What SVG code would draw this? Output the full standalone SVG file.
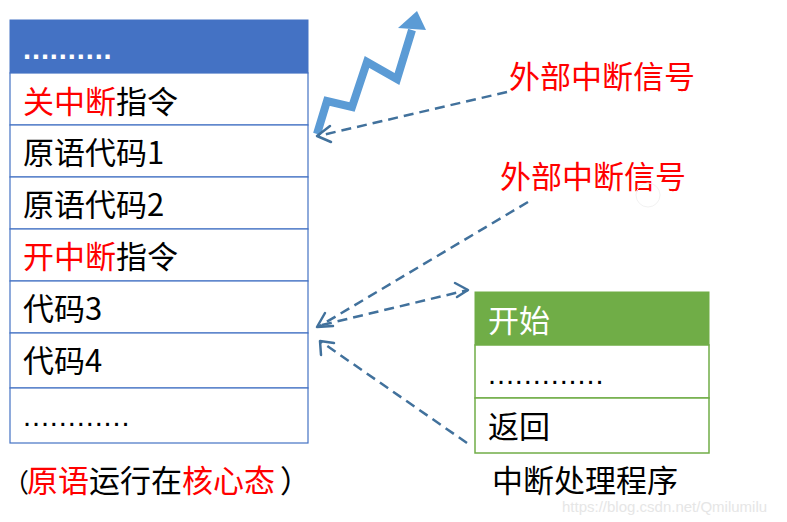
<svg xmlns="http://www.w3.org/2000/svg" width="787" height="522" viewBox="0 0 787 522">
<style>
.t{font-family:"Noto Sans CJK SC","Liberation Sans",sans-serif;font-size:31px;fill:#000}
.d{font-family:"Liberation Sans",sans-serif;font-size:29px;letter-spacing:0.9px;fill:#000}
.r{fill:#FF0000}
.w{fill:#fff}
.sig{font-family:"Noto Sans CJK SC","Liberation Sans",sans-serif;font-size:31px;fill:#FF0000}
.cell{fill:#fff;stroke:#4472C4;stroke-width:1.2}
.gcell{fill:#fff;stroke:#70AD47;stroke-width:1.5}
.dash{fill:none;stroke:#41719C;stroke-width:2.5;stroke-dasharray:10 6}
.head{fill:none;stroke:#41719C;stroke-width:2.5;stroke-linecap:round;stroke-linejoin:round}
</style>
<rect width="787" height="522" fill="#fff"/>
<g id="stack">
<rect x="10" y="20" width="298" height="53" fill="#4472C4" stroke="#4472C4"/>
<rect class="cell" x="10" y="73" width="298" height="52"/>
<rect class="cell" x="10" y="125" width="298" height="52"/>
<rect class="cell" x="10" y="177" width="298" height="52"/>
<rect class="cell" x="10" y="229" width="298" height="52"/>
<rect class="cell" x="10" y="281" width="298" height="52"/>
<rect class="cell" x="10" y="333" width="298" height="55"/>
<rect class="cell" x="10" y="388" width="298" height="55"/>
<text class="d w" x="23" y="59" font-weight="bold">..........</text>
<text class="t" x="23" y="113"><tspan class="r">关中断</tspan>指令</text>
<text class="t" x="23" y="164">原语代码1</text>
<text class="t" x="23" y="216">原语代码2</text>
<text class="t" x="23" y="268"><tspan class="r">开中断</tspan>指令</text>
<text class="t" x="23" y="320">代码3</text>
<text class="t" x="23" y="372">代码4</text>
<text class="d" x="23" y="426">............</text>
</g>
<g id="caption">
<text class="t" y="492"><tspan x="3" font-size="26">（</tspan><tspan x="27" class="r">原语</tspan>运行在<tspan class="r">核心态</tspan><tspan dx="5">）</tspan></text>
</g>
<g id="handler">
<rect x="475" y="292" width="234" height="53" fill="#70AD47" stroke="#70AD47"/>
<rect class="gcell" x="475" y="345" width="234" height="53"/>
<rect class="gcell" x="475" y="398" width="234" height="55"/>
<text class="t w" x="488" y="332">开始</text>
<text class="d" x="488" y="384">.............</text>
<text class="t" x="488" y="438">返回</text>
<text class="t" x="492" y="492">中断处理程序</text>
</g>
<g id="signal1"><text class="sig" x="509" y="88">外部中断信号</text></g>
<g id="signal2"><text class="sig" x="500" y="188">外部中断信号</text></g>
<g id="bolt">
<polyline points="317,134 327,101 352,107 367,62 397,79 412,30" fill="none" stroke="#5B9BD5" stroke-width="8" stroke-linejoin="miter"/>
<polygon points="398,28 417,11 426,30" fill="#5B9BD5"/>
</g>
<g id="connectors">
<path class="dash" d="M507,92 L318,136"/>
<path class="head" d="M330,126 L317,136 L331,142"/>
<path class="dash" d="M528,202 L318,327"/>
<path class="head" d="M325,313 L317,327 L333,326"/>
<path class="dash" d="M322,325 L468,290"/>
<path class="head" d="M455,283 L468,290 L457,297"/>
<path class="dash" d="M467,443 L320,341"/>
<path class="head" d="M321,355 L320,341 L334,343"/>
</g>
<circle cx="648" cy="195" r="12" fill="none" stroke="#f2f2f2" stroke-width="1"/>
<text x="562" y="512" font-family="Liberation Sans, sans-serif" font-size="15" fill="#e6e6e6">https://blog.csdn.net/Qmilumilu</text>
</svg>
